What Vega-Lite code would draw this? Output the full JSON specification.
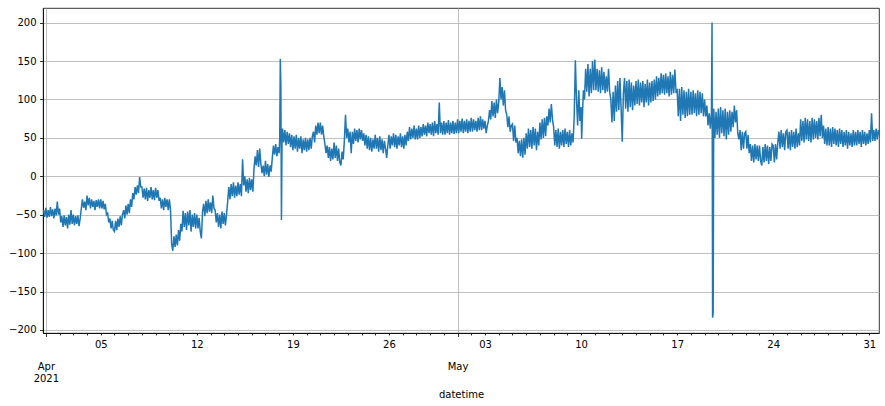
{
  "$schema": "https://vega.github.io/schema/vega-lite/v6.json",
  "width": 836,
  "height": 325,
  "autosize": {"type": "none"},
  "padding": {"left": 43, "top": 8, "right": 6, "bottom": 73},
  "background": "white",
  "config": {
    "font": "DejaVu Sans",
    "view": {"stroke": "black", "strokeWidth": 0.8},
    "axis": {
      "labelFont": "DejaVu Sans", "labelFontSize": 10, "labelColor": "black",
      "titleFont": "DejaVu Sans", "titleFontSize": 10, "titleFontWeight": "normal", "titleColor": "black",
      "domainColor": "black", "domainWidth": 0.8, "tickColor": "black", "tickWidth": 0.8,
      "gridColor": "#b0b0b0", "gridWidth": 0.8
    }
  },
  "data": {"values": [
    {"t":"2021-03-31T20:00","v":-44},{"t":"2021-03-31T22:00","v":-53},
    {"t":"2021-04-01T00:00","v":-41},{"t":"2021-04-01T02:00","v":-54},{"t":"2021-04-01T04:00","v":-44},{"t":"2021-04-01T06:00","v":-53},{"t":"2021-04-01T08:00","v":-40},{"t":"2021-04-01T10:00","v":-52},{"t":"2021-04-01T12:00","v":-43},{"t":"2021-04-01T14:00","v":-55},{"t":"2021-04-01T16:00","v":-42},{"t":"2021-04-01T18:00","v":-51},{"t":"2021-04-01T20:00","v":-33},{"t":"2021-04-01T22:00","v":-50},
    {"t":"2021-04-02T00:00","v":-42},{"t":"2021-04-02T02:00","v":-60},{"t":"2021-04-02T04:00","v":-52},{"t":"2021-04-02T06:00","v":-66},{"t":"2021-04-02T08:00","v":-51},{"t":"2021-04-02T10:00","v":-64},{"t":"2021-04-02T12:00","v":-53},{"t":"2021-04-02T14:00","v":-68},{"t":"2021-04-02T16:00","v":-50},{"t":"2021-04-02T18:00","v":-63},{"t":"2021-04-02T20:00","v":-44},{"t":"2021-04-02T22:00","v":-62},
    {"t":"2021-04-03T00:00","v":-50},{"t":"2021-04-03T02:00","v":-64},{"t":"2021-04-03T04:00","v":-52},{"t":"2021-04-03T06:00","v":-62},{"t":"2021-04-03T08:00","v":-51},{"t":"2021-04-03T10:00","v":-65},{"t":"2021-04-03T12:00","v":-55},{"t":"2021-04-03T14:00","v":-42},{"t":"2021-04-03T16:00","v":-30},{"t":"2021-04-03T18:00","v":-41},{"t":"2021-04-03T20:00","v":-33},{"t":"2021-04-03T22:00","v":-44},
    {"t":"2021-04-04T00:00","v":-25},{"t":"2021-04-04T02:00","v":-38},{"t":"2021-04-04T04:00","v":-28},{"t":"2021-04-04T06:00","v":-42},{"t":"2021-04-04T08:00","v":-30},{"t":"2021-04-04T10:00","v":-40},{"t":"2021-04-04T12:00","v":-32},{"t":"2021-04-04T14:00","v":-44},{"t":"2021-04-04T16:00","v":-31},{"t":"2021-04-04T18:00","v":-40},{"t":"2021-04-04T20:00","v":-30},{"t":"2021-04-04T22:00","v":-42},
    {"t":"2021-04-05T00:00","v":-30},{"t":"2021-04-05T02:00","v":-42},{"t":"2021-04-05T04:00","v":-32},{"t":"2021-04-05T06:00","v":-43},{"t":"2021-04-05T08:00","v":-36},{"t":"2021-04-05T10:00","v":-50},{"t":"2021-04-05T12:00","v":-48},{"t":"2021-04-05T14:00","v":-60},{"t":"2021-04-05T16:00","v":-55},{"t":"2021-04-05T18:00","v":-68},{"t":"2021-04-05T20:00","v":-58},{"t":"2021-04-05T22:00","v":-70},
    {"t":"2021-04-06T00:00","v":-72},{"t":"2021-04-06T02:00","v":-58},{"t":"2021-04-06T04:00","v":-70},{"t":"2021-04-06T06:00","v":-55},{"t":"2021-04-06T08:00","v":-66},{"t":"2021-04-06T10:00","v":-52},{"t":"2021-04-06T12:00","v":-64},{"t":"2021-04-06T14:00","v":-50},{"t":"2021-04-06T16:00","v":-44},{"t":"2021-04-06T18:00","v":-55},{"t":"2021-04-06T20:00","v":-38},{"t":"2021-04-06T22:00","v":-50},
    {"t":"2021-04-07T00:00","v":-36},{"t":"2021-04-07T02:00","v":-48},{"t":"2021-04-07T04:00","v":-30},{"t":"2021-04-07T06:00","v":-40},{"t":"2021-04-07T08:00","v":-22},{"t":"2021-04-07T10:00","v":-30},{"t":"2021-04-07T12:00","v":-14},{"t":"2021-04-07T14:00","v":-24},{"t":"2021-04-07T16:00","v":-12},{"t":"2021-04-07T18:00","v":-22},{"t":"2021-04-07T20:00","v":-1},{"t":"2021-04-07T22:00","v":-14},
    {"t":"2021-04-08T00:00","v":-14},{"t":"2021-04-08T02:00","v":-28},{"t":"2021-04-08T04:00","v":-16},{"t":"2021-04-08T06:00","v":-30},{"t":"2021-04-08T08:00","v":-15},{"t":"2021-04-08T10:00","v":-32},{"t":"2021-04-08T12:00","v":-18},{"t":"2021-04-08T14:00","v":-28},{"t":"2021-04-08T16:00","v":-14},{"t":"2021-04-08T18:00","v":-30},{"t":"2021-04-08T20:00","v":-18},{"t":"2021-04-08T22:00","v":-31},
    {"t":"2021-04-09T00:00","v":-15},{"t":"2021-04-09T02:00","v":-28},{"t":"2021-04-09T04:00","v":-18},{"t":"2021-04-09T06:00","v":-32},{"t":"2021-04-09T08:00","v":-28},{"t":"2021-04-09T10:00","v":-42},{"t":"2021-04-09T12:00","v":-30},{"t":"2021-04-09T14:00","v":-44},{"t":"2021-04-09T16:00","v":-28},{"t":"2021-04-09T18:00","v":-40},{"t":"2021-04-09T20:00","v":-30},{"t":"2021-04-09T22:00","v":-44},
    {"t":"2021-04-10T00:00","v":-30},{"t":"2021-04-10T02:00","v":-44},{"t":"2021-04-10T04:00","v":-88},{"t":"2021-04-10T06:00","v":-97},{"t":"2021-04-10T08:00","v":-78},{"t":"2021-04-10T10:00","v":-92},{"t":"2021-04-10T12:00","v":-76},{"t":"2021-04-10T14:00","v":-90},{"t":"2021-04-10T16:00","v":-70},{"t":"2021-04-10T18:00","v":-84},{"t":"2021-04-10T20:00","v":-62},{"t":"2021-04-10T22:00","v":-72},
    {"t":"2021-04-11T00:00","v":-45},{"t":"2021-04-11T02:00","v":-66},{"t":"2021-04-11T04:00","v":-48},{"t":"2021-04-11T06:00","v":-70},{"t":"2021-04-11T08:00","v":-46},{"t":"2021-04-11T10:00","v":-64},{"t":"2021-04-11T12:00","v":-44},{"t":"2021-04-11T14:00","v":-72},{"t":"2021-04-11T16:00","v":-50},{"t":"2021-04-11T18:00","v":-66},{"t":"2021-04-11T20:00","v":-48},{"t":"2021-04-11T22:00","v":-68},
    {"t":"2021-04-12T00:00","v":-50},{"t":"2021-04-12T02:00","v":-68},{"t":"2021-04-12T04:00","v":-54},{"t":"2021-04-12T06:00","v":-72},{"t":"2021-04-12T08:00","v":-81},{"t":"2021-04-12T10:00","v":-46},{"t":"2021-04-12T12:00","v":-36},{"t":"2021-04-12T14:00","v":-52},{"t":"2021-04-12T16:00","v":-32},{"t":"2021-04-12T18:00","v":-48},{"t":"2021-04-12T20:00","v":-30},{"t":"2021-04-12T22:00","v":-46},
    {"t":"2021-04-13T00:00","v":-34},{"t":"2021-04-13T02:00","v":-48},{"t":"2021-04-13T04:00","v":-25},{"t":"2021-04-13T06:00","v":-42},{"t":"2021-04-13T08:00","v":-44},{"t":"2021-04-13T10:00","v":-60},{"t":"2021-04-13T12:00","v":-48},{"t":"2021-04-13T14:00","v":-66},{"t":"2021-04-13T16:00","v":-50},{"t":"2021-04-13T18:00","v":-68},{"t":"2021-04-13T20:00","v":-46},{"t":"2021-04-13T22:00","v":-62},
    {"t":"2021-04-14T00:00","v":-48},{"t":"2021-04-14T02:00","v":-64},{"t":"2021-04-14T04:00","v":-50},{"t":"2021-04-14T06:00","v":-32},{"t":"2021-04-14T08:00","v":-14},{"t":"2021-04-14T10:00","v":-30},{"t":"2021-04-14T12:00","v":-10},{"t":"2021-04-14T14:00","v":-26},{"t":"2021-04-14T16:00","v":-8},{"t":"2021-04-14T18:00","v":-28},{"t":"2021-04-14T20:00","v":-12},{"t":"2021-04-14T22:00","v":-26},
    {"t":"2021-04-15T00:00","v":-8},{"t":"2021-04-15T02:00","v":-24},{"t":"2021-04-15T04:00","v":-10},{"t":"2021-04-15T06:00","v":-26},{"t":"2021-04-15T08:00","v":22},{"t":"2021-04-15T10:00","v":-12},{"t":"2021-04-15T12:00","v":0},{"t":"2021-04-15T14:00","v":-20},{"t":"2021-04-15T16:00","v":-4},{"t":"2021-04-15T18:00","v":-22},{"t":"2021-04-15T20:00","v":-2},{"t":"2021-04-15T22:00","v":-18},
    {"t":"2021-04-16T00:00","v":-4},{"t":"2021-04-16T02:00","v":-20},{"t":"2021-04-16T04:00","v":10},{"t":"2021-04-16T06:00","v":26},{"t":"2021-04-16T08:00","v":14},{"t":"2021-04-16T10:00","v":34},{"t":"2021-04-16T12:00","v":12},{"t":"2021-04-16T14:00","v":36},{"t":"2021-04-16T16:00","v":16},{"t":"2021-04-16T18:00","v":4},{"t":"2021-04-16T20:00","v":14},{"t":"2021-04-16T22:00","v":0},
    {"t":"2021-04-17T00:00","v":20},{"t":"2021-04-17T02:00","v":2},{"t":"2021-04-17T04:00","v":16},{"t":"2021-04-17T06:00","v":-1},{"t":"2021-04-17T08:00","v":14},{"t":"2021-04-17T10:00","v":6},{"t":"2021-04-17T12:00","v":24},{"t":"2021-04-17T14:00","v":40},{"t":"2021-04-17T16:00","v":28},{"t":"2021-04-17T18:00","v":42},{"t":"2021-04-17T20:00","v":26},{"t":"2021-04-17T22:00","v":38},
    {"t":"2021-04-18T00:00","v":30},{"t":"2021-04-18T01:00","v":50},{"t":"2021-04-18T02:00","v":153},{"t":"2021-04-18T03:00","v":118},{"t":"2021-04-18T04:00","v":-57},{"t":"2021-04-18T05:00","v":45},{"t":"2021-04-18T06:00","v":62},{"t":"2021-04-18T08:00","v":44},{"t":"2021-04-18T10:00","v":60},{"t":"2021-04-18T12:00","v":40},{"t":"2021-04-18T14:00","v":58},{"t":"2021-04-18T16:00","v":42},{"t":"2021-04-18T18:00","v":56},{"t":"2021-04-18T20:00","v":38},{"t":"2021-04-18T22:00","v":54},
    {"t":"2021-04-19T00:00","v":34},{"t":"2021-04-19T02:00","v":52},{"t":"2021-04-19T04:00","v":36},{"t":"2021-04-19T06:00","v":54},{"t":"2021-04-19T08:00","v":32},{"t":"2021-04-19T10:00","v":50},{"t":"2021-04-19T12:00","v":36},{"t":"2021-04-19T14:00","v":52},{"t":"2021-04-19T16:00","v":30},{"t":"2021-04-19T18:00","v":48},{"t":"2021-04-19T20:00","v":34},{"t":"2021-04-19T22:00","v":50},
    {"t":"2021-04-20T00:00","v":32},{"t":"2021-04-20T02:00","v":48},{"t":"2021-04-20T04:00","v":34},{"t":"2021-04-20T06:00","v":50},{"t":"2021-04-20T08:00","v":36},{"t":"2021-04-20T10:00","v":52},{"t":"2021-04-20T12:00","v":58},{"t":"2021-04-20T14:00","v":44},{"t":"2021-04-20T16:00","v":66},{"t":"2021-04-20T18:00","v":54},{"t":"2021-04-20T20:00","v":70},{"t":"2021-04-20T22:00","v":56},
    {"t":"2021-04-21T00:00","v":70},{"t":"2021-04-21T02:00","v":54},{"t":"2021-04-21T04:00","v":66},{"t":"2021-04-21T06:00","v":52},{"t":"2021-04-21T08:00","v":42},{"t":"2021-04-21T10:00","v":30},{"t":"2021-04-21T12:00","v":40},{"t":"2021-04-21T14:00","v":24},{"t":"2021-04-21T16:00","v":38},{"t":"2021-04-21T18:00","v":20},{"t":"2021-04-21T20:00","v":36},{"t":"2021-04-21T22:00","v":22},
    {"t":"2021-04-22T00:00","v":44},{"t":"2021-04-22T02:00","v":24},{"t":"2021-04-22T04:00","v":40},{"t":"2021-04-22T06:00","v":20},{"t":"2021-04-22T08:00","v":36},{"t":"2021-04-22T10:00","v":18},{"t":"2021-04-22T12:00","v":14},{"t":"2021-04-22T14:00","v":32},{"t":"2021-04-22T16:00","v":22},{"t":"2021-04-22T18:00","v":46},{"t":"2021-04-22T20:00","v":80},{"t":"2021-04-22T22:00","v":50},
    {"t":"2021-04-23T00:00","v":62},{"t":"2021-04-23T02:00","v":44},{"t":"2021-04-23T04:00","v":58},{"t":"2021-04-23T06:00","v":30},{"t":"2021-04-23T08:00","v":58},{"t":"2021-04-23T10:00","v":42},{"t":"2021-04-23T12:00","v":62},{"t":"2021-04-23T14:00","v":46},{"t":"2021-04-23T16:00","v":60},{"t":"2021-04-23T18:00","v":44},{"t":"2021-04-23T20:00","v":62},{"t":"2021-04-23T22:00","v":48},
    {"t":"2021-04-24T00:00","v":60},{"t":"2021-04-24T02:00","v":46},{"t":"2021-04-24T04:00","v":56},{"t":"2021-04-24T06:00","v":40},{"t":"2021-04-24T08:00","v":54},{"t":"2021-04-24T10:00","v":36},{"t":"2021-04-24T12:00","v":52},{"t":"2021-04-24T14:00","v":34},{"t":"2021-04-24T16:00","v":50},{"t":"2021-04-24T18:00","v":32},{"t":"2021-04-24T20:00","v":48},{"t":"2021-04-24T22:00","v":36},
    {"t":"2021-04-25T00:00","v":54},{"t":"2021-04-25T02:00","v":36},{"t":"2021-04-25T04:00","v":50},{"t":"2021-04-25T06:00","v":32},{"t":"2021-04-25T08:00","v":52},{"t":"2021-04-25T10:00","v":34},{"t":"2021-04-25T12:00","v":48},{"t":"2021-04-25T14:00","v":30},{"t":"2021-04-25T16:00","v":46},{"t":"2021-04-25T18:00","v":36},{"t":"2021-04-25T20:00","v":24},{"t":"2021-04-25T22:00","v":40},
    {"t":"2021-04-26T00:00","v":54},{"t":"2021-04-26T02:00","v":36},{"t":"2021-04-26T04:00","v":52},{"t":"2021-04-26T06:00","v":40},{"t":"2021-04-26T08:00","v":56},{"t":"2021-04-26T10:00","v":38},{"t":"2021-04-26T12:00","v":54},{"t":"2021-04-26T14:00","v":36},{"t":"2021-04-26T16:00","v":52},{"t":"2021-04-26T18:00","v":40},{"t":"2021-04-26T20:00","v":56},{"t":"2021-04-26T22:00","v":38},
    {"t":"2021-04-27T00:00","v":52},{"t":"2021-04-27T02:00","v":36},{"t":"2021-04-27T04:00","v":54},{"t":"2021-04-27T06:00","v":40},{"t":"2021-04-27T08:00","v":58},{"t":"2021-04-27T10:00","v":46},{"t":"2021-04-27T12:00","v":64},{"t":"2021-04-27T14:00","v":48},{"t":"2021-04-27T16:00","v":62},{"t":"2021-04-27T18:00","v":50},{"t":"2021-04-27T20:00","v":66},{"t":"2021-04-27T22:00","v":48},
    {"t":"2021-04-28T00:00","v":62},{"t":"2021-04-28T02:00","v":48},{"t":"2021-04-28T04:00","v":66},{"t":"2021-04-28T06:00","v":50},{"t":"2021-04-28T08:00","v":64},{"t":"2021-04-28T10:00","v":52},{"t":"2021-04-28T12:00","v":68},{"t":"2021-04-28T14:00","v":54},{"t":"2021-04-28T16:00","v":66},{"t":"2021-04-28T18:00","v":52},{"t":"2021-04-28T20:00","v":70},{"t":"2021-04-28T22:00","v":56},
    {"t":"2021-04-29T00:00","v":68},{"t":"2021-04-29T02:00","v":54},{"t":"2021-04-29T04:00","v":70},{"t":"2021-04-29T06:00","v":52},{"t":"2021-04-29T08:00","v":72},{"t":"2021-04-29T10:00","v":56},{"t":"2021-04-29T12:00","v":68},{"t":"2021-04-29T14:00","v":54},{"t":"2021-04-29T16:00","v":96},{"t":"2021-04-29T18:00","v":56},{"t":"2021-04-29T20:00","v":70},{"t":"2021-04-29T22:00","v":54},
    {"t":"2021-04-30T00:00","v":72},{"t":"2021-04-30T02:00","v":54},{"t":"2021-04-30T04:00","v":70},{"t":"2021-04-30T06:00","v":56},{"t":"2021-04-30T08:00","v":73},{"t":"2021-04-30T10:00","v":54},{"t":"2021-04-30T12:00","v":70},{"t":"2021-04-30T14:00","v":56},{"t":"2021-04-30T16:00","v":72},{"t":"2021-04-30T18:00","v":55},{"t":"2021-04-30T20:00","v":70},{"t":"2021-04-30T22:00","v":56},
    {"t":"2021-05-01T00:00","v":74},{"t":"2021-05-01T02:00","v":56},{"t":"2021-05-01T04:00","v":72},{"t":"2021-05-01T06:00","v":58},{"t":"2021-05-01T08:00","v":75},{"t":"2021-05-01T10:00","v":56},{"t":"2021-05-01T12:00","v":72},{"t":"2021-05-01T14:00","v":58},{"t":"2021-05-01T16:00","v":74},{"t":"2021-05-01T18:00","v":56},{"t":"2021-05-01T20:00","v":72},{"t":"2021-05-01T22:00","v":58},
    {"t":"2021-05-02T00:00","v":76},{"t":"2021-05-02T02:00","v":58},{"t":"2021-05-02T04:00","v":74},{"t":"2021-05-02T06:00","v":60},{"t":"2021-05-02T08:00","v":72},{"t":"2021-05-02T10:00","v":58},{"t":"2021-05-02T12:00","v":76},{"t":"2021-05-02T14:00","v":60},{"t":"2021-05-02T16:00","v":78},{"t":"2021-05-02T18:00","v":60},{"t":"2021-05-02T20:00","v":74},{"t":"2021-05-02T22:00","v":62},
    {"t":"2021-05-03T00:00","v":72},{"t":"2021-05-03T02:00","v":56},{"t":"2021-05-03T04:00","v":66},{"t":"2021-05-03T06:00","v":72},{"t":"2021-05-03T08:00","v":86},{"t":"2021-05-03T10:00","v":74},{"t":"2021-05-03T12:00","v":98},{"t":"2021-05-03T14:00","v":78},{"t":"2021-05-03T16:00","v":96},{"t":"2021-05-03T18:00","v":76},{"t":"2021-05-03T20:00","v":100},{"t":"2021-05-03T22:00","v":82},
    {"t":"2021-05-04T00:00","v":96},{"t":"2021-05-04T02:00","v":128},{"t":"2021-05-04T04:00","v":100},{"t":"2021-05-04T06:00","v":116},{"t":"2021-05-04T08:00","v":92},{"t":"2021-05-04T10:00","v":112},{"t":"2021-05-04T12:00","v":86},{"t":"2021-05-04T14:00","v":80},{"t":"2021-05-04T16:00","v":64},{"t":"2021-05-04T18:00","v":78},{"t":"2021-05-04T20:00","v":58},{"t":"2021-05-04T22:00","v":66},
    {"t":"2021-05-05T00:00","v":68},{"t":"2021-05-05T02:00","v":46},{"t":"2021-05-05T04:00","v":66},{"t":"2021-05-05T06:00","v":44},{"t":"2021-05-05T08:00","v":50},{"t":"2021-05-05T10:00","v":30},{"t":"2021-05-05T12:00","v":46},{"t":"2021-05-05T14:00","v":26},{"t":"2021-05-05T16:00","v":48},{"t":"2021-05-05T18:00","v":24},{"t":"2021-05-05T20:00","v":50},{"t":"2021-05-05T22:00","v":28},
    {"t":"2021-05-06T00:00","v":56},{"t":"2021-05-06T02:00","v":36},{"t":"2021-05-06T04:00","v":62},{"t":"2021-05-06T06:00","v":38},{"t":"2021-05-06T08:00","v":60},{"t":"2021-05-06T10:00","v":36},{"t":"2021-05-06T12:00","v":64},{"t":"2021-05-06T14:00","v":40},{"t":"2021-05-06T16:00","v":62},{"t":"2021-05-06T18:00","v":34},{"t":"2021-05-06T20:00","v":58},{"t":"2021-05-06T22:00","v":40},
    {"t":"2021-05-07T00:00","v":70},{"t":"2021-05-07T02:00","v":48},{"t":"2021-05-07T04:00","v":74},{"t":"2021-05-07T06:00","v":50},{"t":"2021-05-07T08:00","v":76},{"t":"2021-05-07T10:00","v":52},{"t":"2021-05-07T12:00","v":78},{"t":"2021-05-07T14:00","v":66},{"t":"2021-05-07T16:00","v":88},{"t":"2021-05-07T18:00","v":70},{"t":"2021-05-07T20:00","v":94},{"t":"2021-05-07T22:00","v":74},
    {"t":"2021-05-08T00:00","v":64},{"t":"2021-05-08T02:00","v":40},{"t":"2021-05-08T04:00","v":60},{"t":"2021-05-08T06:00","v":38},{"t":"2021-05-08T08:00","v":62},{"t":"2021-05-08T10:00","v":36},{"t":"2021-05-08T12:00","v":58},{"t":"2021-05-08T14:00","v":40},{"t":"2021-05-08T16:00","v":60},{"t":"2021-05-08T18:00","v":38},{"t":"2021-05-08T20:00","v":62},{"t":"2021-05-08T22:00","v":42},
    {"t":"2021-05-09T00:00","v":58},{"t":"2021-05-09T02:00","v":38},{"t":"2021-05-09T04:00","v":60},{"t":"2021-05-09T06:00","v":40},{"t":"2021-05-09T08:00","v":56},{"t":"2021-05-09T10:00","v":44},{"t":"2021-05-09T12:00","v":78},{"t":"2021-05-09T14:00","v":151},{"t":"2021-05-09T16:00","v":100},{"t":"2021-05-09T18:00","v":66},{"t":"2021-05-09T20:00","v":112},{"t":"2021-05-09T22:00","v":72},
    {"t":"2021-05-10T00:00","v":90},{"t":"2021-05-10T01:00","v":49},{"t":"2021-05-10T02:00","v":70},{"t":"2021-05-10T04:00","v":112},{"t":"2021-05-10T06:00","v":100},{"t":"2021-05-10T08:00","v":140},{"t":"2021-05-10T10:00","v":110},{"t":"2021-05-10T12:00","v":146},{"t":"2021-05-10T14:00","v":104},{"t":"2021-05-10T16:00","v":140},{"t":"2021-05-10T18:00","v":108},{"t":"2021-05-10T20:00","v":150},{"t":"2021-05-10T22:00","v":112},
    {"t":"2021-05-11T00:00","v":152},{"t":"2021-05-11T02:00","v":112},{"t":"2021-05-11T04:00","v":140},{"t":"2021-05-11T06:00","v":110},{"t":"2021-05-11T08:00","v":138},{"t":"2021-05-11T10:00","v":108},{"t":"2021-05-11T12:00","v":142},{"t":"2021-05-11T14:00","v":112},{"t":"2021-05-11T16:00","v":136},{"t":"2021-05-11T18:00","v":108},{"t":"2021-05-11T20:00","v":130},{"t":"2021-05-11T22:00","v":110},
    {"t":"2021-05-12T00:00","v":140},{"t":"2021-05-12T02:00","v":110},{"t":"2021-05-12T04:00","v":100},{"t":"2021-05-12T06:00","v":70},{"t":"2021-05-12T08:00","v":110},{"t":"2021-05-12T10:00","v":72},{"t":"2021-05-12T12:00","v":118},{"t":"2021-05-12T14:00","v":84},{"t":"2021-05-12T16:00","v":124},{"t":"2021-05-12T18:00","v":86},{"t":"2021-05-12T20:00","v":128},{"t":"2021-05-12T22:00","v":88},
    {"t":"2021-05-13T00:00","v":45},{"t":"2021-05-13T02:00","v":108},{"t":"2021-05-13T04:00","v":128},{"t":"2021-05-13T06:00","v":88},{"t":"2021-05-13T08:00","v":124},{"t":"2021-05-13T10:00","v":84},{"t":"2021-05-13T12:00","v":126},{"t":"2021-05-13T14:00","v":90},{"t":"2021-05-13T16:00","v":122},{"t":"2021-05-13T18:00","v":86},{"t":"2021-05-13T20:00","v":118},{"t":"2021-05-13T22:00","v":92},
    {"t":"2021-05-14T00:00","v":124},{"t":"2021-05-14T02:00","v":94},{"t":"2021-05-14T04:00","v":126},{"t":"2021-05-14T06:00","v":92},{"t":"2021-05-14T08:00","v":122},{"t":"2021-05-14T10:00","v":96},{"t":"2021-05-14T12:00","v":124},{"t":"2021-05-14T14:00","v":90},{"t":"2021-05-14T16:00","v":120},{"t":"2021-05-14T18:00","v":96},{"t":"2021-05-14T20:00","v":126},{"t":"2021-05-14T22:00","v":92},
    {"t":"2021-05-15T00:00","v":122},{"t":"2021-05-15T02:00","v":96},{"t":"2021-05-15T04:00","v":124},{"t":"2021-05-15T06:00","v":98},{"t":"2021-05-15T08:00","v":126},{"t":"2021-05-15T10:00","v":100},{"t":"2021-05-15T12:00","v":130},{"t":"2021-05-15T14:00","v":104},{"t":"2021-05-15T16:00","v":128},{"t":"2021-05-15T18:00","v":106},{"t":"2021-05-15T20:00","v":134},{"t":"2021-05-15T22:00","v":108},
    {"t":"2021-05-16T00:00","v":132},{"t":"2021-05-16T02:00","v":106},{"t":"2021-05-16T04:00","v":134},{"t":"2021-05-16T06:00","v":108},{"t":"2021-05-16T08:00","v":130},{"t":"2021-05-16T10:00","v":104},{"t":"2021-05-16T12:00","v":136},{"t":"2021-05-16T14:00","v":106},{"t":"2021-05-16T16:00","v":132},{"t":"2021-05-16T18:00","v":108},{"t":"2021-05-16T20:00","v":139},{"t":"2021-05-16T22:00","v":110},
    {"t":"2021-05-17T00:00","v":112},{"t":"2021-05-17T02:00","v":78},{"t":"2021-05-17T04:00","v":114},{"t":"2021-05-17T06:00","v":72},{"t":"2021-05-17T08:00","v":116},{"t":"2021-05-17T10:00","v":80},{"t":"2021-05-17T12:00","v":112},{"t":"2021-05-17T14:00","v":76},{"t":"2021-05-17T16:00","v":110},{"t":"2021-05-17T18:00","v":78},{"t":"2021-05-17T20:00","v":114},{"t":"2021-05-17T22:00","v":80},
    {"t":"2021-05-18T00:00","v":110},{"t":"2021-05-18T02:00","v":80},{"t":"2021-05-18T04:00","v":112},{"t":"2021-05-18T06:00","v":82},{"t":"2021-05-18T08:00","v":108},{"t":"2021-05-18T10:00","v":78},{"t":"2021-05-18T12:00","v":112},{"t":"2021-05-18T14:00","v":80},{"t":"2021-05-18T16:00","v":110},{"t":"2021-05-18T18:00","v":82},{"t":"2021-05-18T20:00","v":108},{"t":"2021-05-18T22:00","v":78},
    {"t":"2021-05-19T00:00","v":100},{"t":"2021-05-19T02:00","v":78},{"t":"2021-05-19T04:00","v":92},{"t":"2021-05-19T06:00","v":66},{"t":"2021-05-19T08:00","v":82},{"t":"2021-05-19T10:00","v":62},{"t":"2021-05-19T12:00","v":84},{"t":"2021-05-19T13:00","v":200},{"t":"2021-05-19T14:00","v":-184},{"t":"2021-05-19T15:00","v":-178},{"t":"2021-05-19T16:00","v":88},{"t":"2021-05-19T18:00","v":50},{"t":"2021-05-19T20:00","v":84},{"t":"2021-05-19T22:00","v":54},
    {"t":"2021-05-20T00:00","v":88},{"t":"2021-05-20T02:00","v":50},{"t":"2021-05-20T04:00","v":90},{"t":"2021-05-20T06:00","v":56},{"t":"2021-05-20T08:00","v":86},{"t":"2021-05-20T10:00","v":52},{"t":"2021-05-20T12:00","v":88},{"t":"2021-05-20T14:00","v":48},{"t":"2021-05-20T16:00","v":84},{"t":"2021-05-20T18:00","v":54},{"t":"2021-05-20T20:00","v":86},{"t":"2021-05-20T22:00","v":58},
    {"t":"2021-05-21T00:00","v":84},{"t":"2021-05-21T02:00","v":64},{"t":"2021-05-21T04:00","v":92},{"t":"2021-05-21T06:00","v":70},{"t":"2021-05-21T08:00","v":86},{"t":"2021-05-21T10:00","v":56},{"t":"2021-05-21T12:00","v":48},{"t":"2021-05-21T14:00","v":60},{"t":"2021-05-21T16:00","v":34},{"t":"2021-05-21T18:00","v":58},{"t":"2021-05-21T20:00","v":36},{"t":"2021-05-21T22:00","v":56},
    {"t":"2021-05-22T00:00","v":58},{"t":"2021-05-22T02:00","v":36},{"t":"2021-05-22T04:00","v":54},{"t":"2021-05-22T06:00","v":30},{"t":"2021-05-22T08:00","v":42},{"t":"2021-05-22T10:00","v":20},{"t":"2021-05-22T12:00","v":40},{"t":"2021-05-22T14:00","v":18},{"t":"2021-05-22T16:00","v":42},{"t":"2021-05-22T18:00","v":22},{"t":"2021-05-22T20:00","v":40},{"t":"2021-05-22T22:00","v":20},
    {"t":"2021-05-23T00:00","v":40},{"t":"2021-05-23T02:00","v":20},{"t":"2021-05-23T04:00","v":14},{"t":"2021-05-23T06:00","v":38},{"t":"2021-05-23T08:00","v":18},{"t":"2021-05-23T10:00","v":42},{"t":"2021-05-23T12:00","v":20},{"t":"2021-05-23T14:00","v":40},{"t":"2021-05-23T16:00","v":16},{"t":"2021-05-23T18:00","v":38},{"t":"2021-05-23T20:00","v":20},{"t":"2021-05-23T22:00","v":42},
    {"t":"2021-05-24T00:00","v":40},{"t":"2021-05-24T02:00","v":18},{"t":"2021-05-24T04:00","v":42},{"t":"2021-05-24T06:00","v":22},{"t":"2021-05-24T08:00","v":44},{"t":"2021-05-24T10:00","v":58},{"t":"2021-05-24T12:00","v":36},{"t":"2021-05-24T14:00","v":60},{"t":"2021-05-24T16:00","v":38},{"t":"2021-05-24T18:00","v":56},{"t":"2021-05-24T20:00","v":34},{"t":"2021-05-24T22:00","v":58},
    {"t":"2021-05-25T00:00","v":60},{"t":"2021-05-25T02:00","v":36},{"t":"2021-05-25T04:00","v":58},{"t":"2021-05-25T06:00","v":34},{"t":"2021-05-25T08:00","v":60},{"t":"2021-05-25T10:00","v":38},{"t":"2021-05-25T12:00","v":58},{"t":"2021-05-25T14:00","v":36},{"t":"2021-05-25T16:00","v":62},{"t":"2021-05-25T18:00","v":38},{"t":"2021-05-25T20:00","v":56},{"t":"2021-05-25T22:00","v":40},
    {"t":"2021-05-26T00:00","v":74},{"t":"2021-05-26T02:00","v":46},{"t":"2021-05-26T04:00","v":72},{"t":"2021-05-26T06:00","v":44},{"t":"2021-05-26T08:00","v":76},{"t":"2021-05-26T10:00","v":48},{"t":"2021-05-26T12:00","v":74},{"t":"2021-05-26T14:00","v":46},{"t":"2021-05-26T16:00","v":72},{"t":"2021-05-26T18:00","v":44},{"t":"2021-05-26T20:00","v":76},{"t":"2021-05-26T22:00","v":48},
    {"t":"2021-05-27T00:00","v":74},{"t":"2021-05-27T02:00","v":50},{"t":"2021-05-27T04:00","v":72},{"t":"2021-05-27T06:00","v":48},{"t":"2021-05-27T08:00","v":76},{"t":"2021-05-27T10:00","v":52},{"t":"2021-05-27T12:00","v":80},{"t":"2021-05-27T14:00","v":50},{"t":"2021-05-27T16:00","v":66},{"t":"2021-05-27T18:00","v":42},{"t":"2021-05-27T20:00","v":62},{"t":"2021-05-27T22:00","v":40},
    {"t":"2021-05-28T00:00","v":64},{"t":"2021-05-28T02:00","v":40},{"t":"2021-05-28T04:00","v":62},{"t":"2021-05-28T06:00","v":38},{"t":"2021-05-28T08:00","v":64},{"t":"2021-05-28T10:00","v":42},{"t":"2021-05-28T12:00","v":62},{"t":"2021-05-28T14:00","v":40},{"t":"2021-05-28T16:00","v":60},{"t":"2021-05-28T18:00","v":38},{"t":"2021-05-28T20:00","v":62},{"t":"2021-05-28T22:00","v":42},
    {"t":"2021-05-29T00:00","v":60},{"t":"2021-05-29T02:00","v":38},{"t":"2021-05-29T04:00","v":58},{"t":"2021-05-29T06:00","v":40},{"t":"2021-05-29T08:00","v":60},{"t":"2021-05-29T10:00","v":36},{"t":"2021-05-29T12:00","v":58},{"t":"2021-05-29T14:00","v":40},{"t":"2021-05-29T16:00","v":56},{"t":"2021-05-29T18:00","v":38},{"t":"2021-05-29T20:00","v":60},{"t":"2021-05-29T22:00","v":40},
    {"t":"2021-05-30T00:00","v":58},{"t":"2021-05-30T02:00","v":40},{"t":"2021-05-30T04:00","v":60},{"t":"2021-05-30T06:00","v":42},{"t":"2021-05-30T08:00","v":58},{"t":"2021-05-30T10:00","v":38},{"t":"2021-05-30T12:00","v":60},{"t":"2021-05-30T14:00","v":42},{"t":"2021-05-30T16:00","v":58},{"t":"2021-05-30T18:00","v":40},{"t":"2021-05-30T20:00","v":56},{"t":"2021-05-30T22:00","v":42},
    {"t":"2021-05-31T00:00","v":60},{"t":"2021-05-31T02:00","v":44},{"t":"2021-05-31T04:00","v":82},{"t":"2021-05-31T06:00","v":46},{"t":"2021-05-31T08:00","v":60},{"t":"2021-05-31T10:00","v":46},{"t":"2021-05-31T12:00","v":62},{"t":"2021-05-31T14:00","v":48},{"t":"2021-05-31T16:00","v":60},{"t":"2021-05-31T17:00","v":54}
  ]},
  "mark": {"type": "line", "color": "#1f77b4", "strokeWidth": 1.5, "clip": true},
  "encoding": {
    "x": {
      "field": "t", "type": "temporal",
      "scale": {"domain": [{"year": 2021, "month": 3, "date": 31, "hours": 19}, {"year": 2021, "month": 5, "date": 31, "hours": 17}]},
      "axis": {
        "title": "datetime",
        "titlePadding": 6,
        "tickCount": {"interval": "day", "step": 1},
        "labelExpr": "date(datum.value) == 1 ? (month(datum.value) == 3 ? ['Apr', '2021'] : timeFormat(datum.value, '%b')) : (day(datum.value) == 1 ? timeFormat(datum.value, '%d') : '')",
        "tickSize": {"condition": {"test": "date(datum.value) == 1", "value": 3.5}, "value": 2},
        "labelPadding": {"condition": {"test": "date(datum.value) == 1", "value": 25}, "value": 4.5},
        "gridOpacity": {"condition": {"test": "date(datum.value) == 1", "value": 1}, "value": 0},
        "grid": true,
        "labelOverlap": false,
        "labelBound": false,
        "labelFlush": false,
        "labelLineHeight": 12
      }
    },
    "y": {
      "field": "v", "type": "quantitative",
      "scale": {"domain": [-204, 219], "nice": false, "zero": false},
      "axis": {
        "title": null,
        "values": [-200, -150, -100, -50, 0, 50, 100, 150, 200],
        "tickSize": 3.5,
        "labelPadding": 3.5,
        "grid": true
      }
    }
  }
}
